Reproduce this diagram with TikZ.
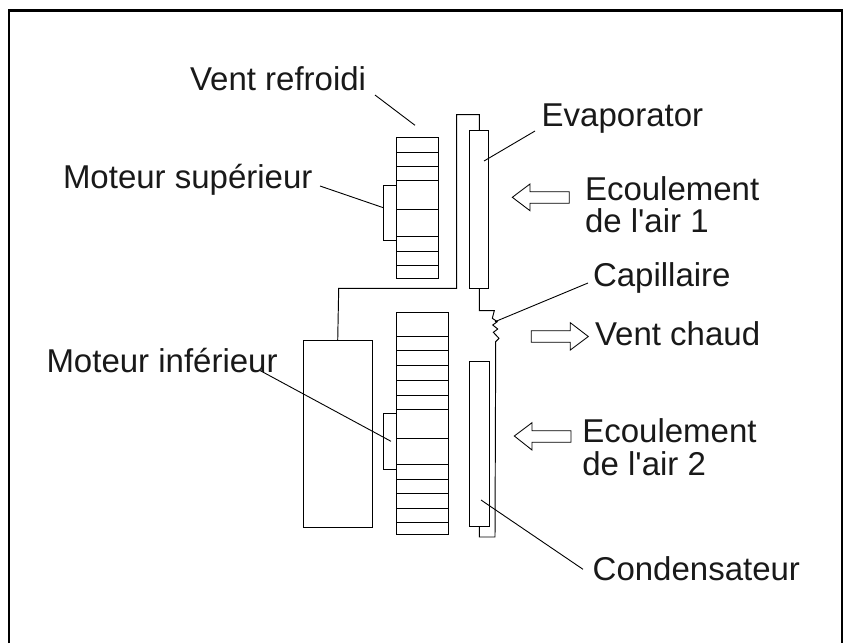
\documentclass[tikz,border=0pt]{standalone}
\usepackage{fontspec}
\setmainfont{Liberation Sans}
\tikzset{
  part/.style={draw=black,line width=0.95pt,fill=white},
  pipe/.style={draw=black,line width=0.95pt,line join=miter},
  leader/.style={draw=black,line width=0.9pt},
  frameline/.style={draw=black,line width=2.2pt},
  flow/.style={draw=black,line width=0.85pt,line join=miter},
  label/.style={anchor=base west,inner sep=0pt,outer sep=0pt,font=\fontsize{33}{38}\selectfont,text=black!90}
}
\begin{document}
\begin{tikzpicture}[x=1pt,y=-1pt]
\useasboundingbox (0,0) rectangle (845,643);
\fill[white] (0,0) rectangle (845,643);
% frame
\draw[frameline] (9,643) -- (9,10.5) -- (842,10.5) -- (842,643);
% motors
\draw[part] (383.3,185.3) rectangle (396.7,240.3);
\draw[part] (383.3,413.7) rectangle (396.3,469);
% upper fan
\draw[part] (396.7,137.7) rectangle (438.7,278.7);
\foreach \yy in {152,166.3,180.7,209.7,236.3,251,265.3}
  \draw[pipe] (396.7,\yy) -- (438.7,\yy);
% lower fan
\draw[part] (396.3,312.3) rectangle (448.3,534);
\foreach \yy in {336,350.3,365,380.3,395,409.3,438.7,464.7,479.3,493.7,508.3,522.7}
  \draw[pipe] (396.3,\yy) -- (448.3,\yy);
% compressor
\draw[part] (303.7,340.7) rectangle (372,527.3);
% evaporator, condenser
\draw[part] (469.3,130.7) rectangle (488.7,288.3);
\draw[part] (469.7,361.3) rectangle (489,526.7);
% refrigerant circuit
\draw[pipe] (337.7,340.7) -- (338.7,288.3) -- (456.7,288.3) -- (456.7,114.7) -- (479.3,114.7) -- (479.3,130.7);
\draw[pipe] (479.3,288.3) -- (479.3,310.7) -- (494.3,310.7) -- (492.3,318.3) -- (497.3,321.7) -- (492.7,325) -- (497.7,329) -- (493.3,332.3) -- (499,338.3) -- (495.7,341.7) -- (495,537) -- (479.3,537) -- (479.3,526.7);
% flow arrows
\draw[flow] (569.3,191.7) -- (530,191.7) -- (530,184) -- (512.3,197.3) -- (530,210.7) -- (530,203.3) -- (569.3,203.3) -- cycle;
\draw[flow] (531.3,330.7) -- (570.3,330.7) -- (570.3,322.7) -- (588.3,336.5) -- (570.3,350) -- (570.3,342.3) -- (531.3,342.3) -- cycle;
\draw[flow] (571,430.7) -- (532,430.7) -- (532,422.7) -- (514.3,436) -- (532,450) -- (532,442.3) -- (571,442.3) -- cycle;
% leaders
\coordinate (lv1) at (375,95); \coordinate (lv2) at (415,125.3);
\coordinate (le1) at (535,131); \coordinate (le2) at (484,161);
\coordinate (lm1) at (320,186); \coordinate (lm2) at (383.3,207.7);
\coordinate (li1) at (260,370.5); \coordinate (li2) at (391,441.3);
\coordinate (lc1) at (588,283); \coordinate (lc2) at (495,321.7);
\coordinate (ld1) at (583,569.3); \coordinate (ld2) at (481,500);
\draw[leader] (lv1) -- (lv2);
\draw[leader] (le1) -- (le2);
\draw[leader] (lm1) -- (lm2);
\draw[leader] (li1) -- (li2);
\draw[leader] (lc1) -- (lc2);
\draw[leader] (ld1) -- (ld2);
% labels
\node[label] (t1) at (190,90) {Vent refroidi};
\node[label] (t2) at (541.7,126) {Evaporator};
\node[label] (t3) at (63,188) {Moteur supérieur};
\node[label] (t4) at (585,200) {Ecoulement};
\node[label] (t5) at (585,232.7) {de l\textquotesingle air 1};
\node[label] (t6) at (593,286) {Capillaire};
\node[label] (t7) at (595,345) {Vent chaud};
\node[label] (t8) at (46.5,372.3) {Moteur inférieur};
\node[label] (t9) at (582.3,442.3) {Ecoulement};
\node[label] (t10) at (582.3,475) {de l\textquotesingle air 2};
\node[label] (t11) at (592.7,580) {Condensateur};
\end{tikzpicture}
\end{document}
